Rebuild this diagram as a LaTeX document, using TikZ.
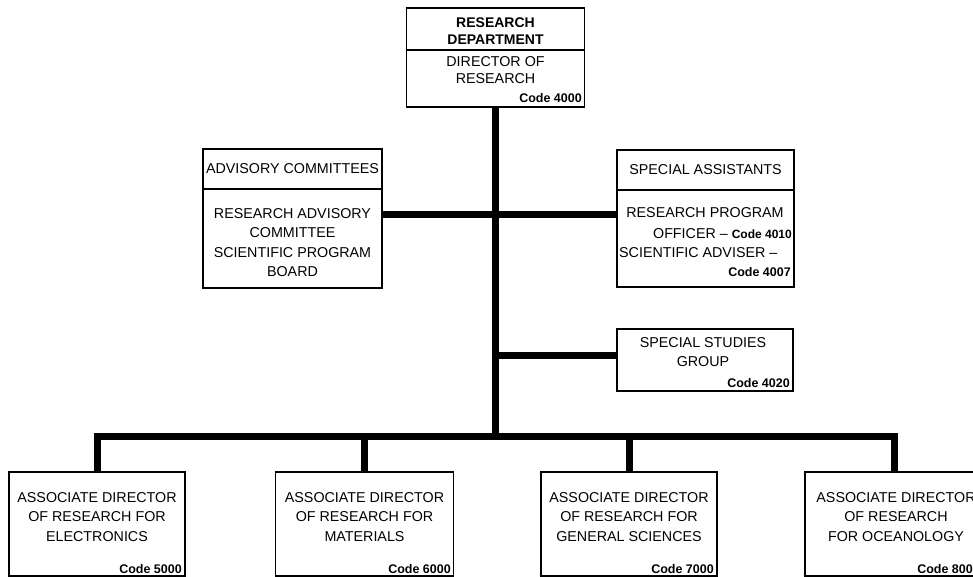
\documentclass[tikz,border=0pt]{standalone}
\usepackage{fontspec}
\setmainfont{Liberation Sans}
\begin{document}
\begin{tikzpicture}[x=1pt,y=-1pt,
  box/.style={draw=black,line width=1.3pt,fill=white,inner sep=0pt},
  conn/.style={draw=black,line width=7pt},
  txt/.style={inner sep=0pt,align=center,font=\fontsize{14.3}{19.5}\selectfont},
  hdr/.style={inner sep=0pt,align=center,font=\bfseries\fontsize{14}{17.5}\selectfont},
  code/.style={inner sep=0pt,anchor=base east,font=\bfseries\fontsize{12.5}{14}\selectfont}]
\useasboundingbox (0,0) rectangle (973,577);
% connectors
\coordinate (tb) at (495.5,436);
\coordinate (ssj) at (495.5,355);
% boxes
\node[box,minimum width=178,minimum height=99] (top) at (495.5,57.5) {};
\node[box,minimum width=179,minimum height=139] (adv) at (292.5,218.5) {};
\node[box,minimum width=177,minimum height=137] (sa) at (705.5,218.5) {};
\node[box,minimum width=176,minimum height=62] (ss) at (705,360) {};
\node[box,minimum width=176,minimum height=104] (b1) at (97,524) {};
\node[box,minimum width=178,minimum height=104] (b2) at (364.5,524) {};
\node[box,minimum width=176,minimum height=104] (b3) at (629,524) {};
\node[box,minimum width=178,minimum height=104] (b4) at (894,524) {};
% dividers
\draw[line width=1.3pt] (top.west |- 0,50) -- (top.east |- 0,50);
\draw[line width=1.3pt] (adv.west |- 0,189) -- (adv.east |- 0,189);
\draw[line width=1.3pt] (sa.west |- 0,190) -- (sa.east |- 0,190);
% lines
\draw[conn] (top.south) -- (tb);
\draw[conn] (adv.east |- 0,215) -- (sa.west |- 0,215);
\draw[conn] (ssj) -- (ss.west |- ssj);
\draw[conn] (b1.north) |- (tb) -| (b4.north);
\draw[conn] (b2.north) -- (b2.north |- tb);
\draw[conn] (b3.north) -- (b3.north |- tb);
% texts
\node[hdr] (t1) at (495.5,31) {RESEARCH\\DEPARTMENT};
\node[txt,font=\fontsize{14.3}{17}\selectfont] (t2) at (495.5,70) {DIRECTOR OF\\RESEARCH};
\node[code] (c1) at (582,103) {Code 4000};
\node[txt] (a1) at (292.5,169) {ADVISORY COMMITTEES};
\node[txt] (a2) at (292.5,242.5) {RESEARCH ADVISORY\\COMMITTEE\\SCIENTIFIC PROGRAM\\BOARD};
\node[txt] (s1) at (705.5,170) {SPECIAL ASSISTANTS};
\node[txt] (s2) at (705,213) {RESEARCH PROGRAM};
\node[txt,anchor=base east] (s3) at (792,238) {OFFICER -- \textbf{\fontsize{12}{13}\selectfont Code 4010}};
\node[txt,anchor=base west] (s4) at (619,257) {SCIENTIFIC ADVISER --};
\node[code] (s5) at (791,276) {Code 4007};
\node[txt] (g1) at (703,352) {SPECIAL STUDIES\\GROUP};
\node[code] (c2) at (790,387) {Code 4020};
\node[txt] (e1) at (97,517) {ASSOCIATE DIRECTOR\\OF RESEARCH FOR\\ELECTRONICS};
\node[code] (c5) at (182,573) {Code 5000};
\node[txt] (m1) at (364.5,517) {ASSOCIATE DIRECTOR\\OF RESEARCH FOR\\MATERIALS};
\node[code] (c6) at (451,573) {Code 6000};
\node[txt] (g2) at (629,517) {ASSOCIATE DIRECTOR\\OF RESEARCH FOR\\GENERAL SCIENCES};
\node[code] (c7) at (714,573) {Code 7000};
\node[txt] (o1) at (896,517) {ASSOCIATE DIRECTOR\\OF RESEARCH\\FOR OCEANOLOGY};
\node[code] (c8) at (980,573) {Code 8000};
\end{tikzpicture}
\end{document}
